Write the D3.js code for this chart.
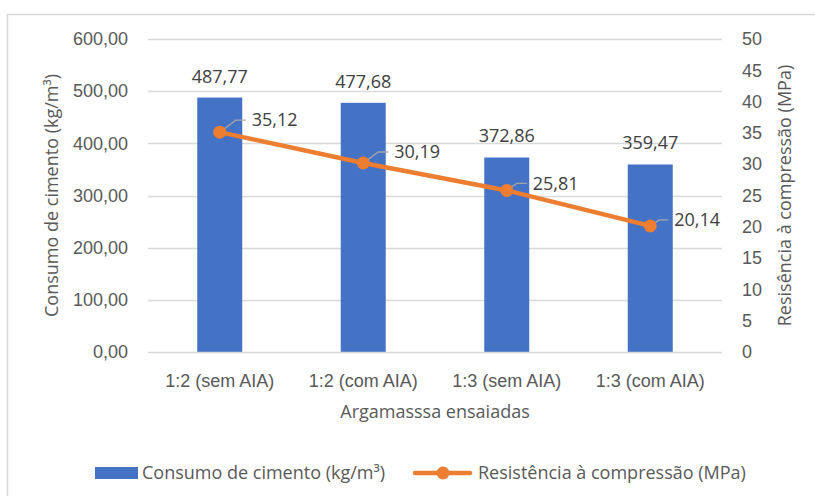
<!DOCTYPE html>
<html>
<head>
<meta charset="utf-8">
<script src="https://cdn.jsdelivr.net/npm/d3@7"></script>
<style>
  html, body { margin: 0; padding: 0; background: #fff; }
  svg { display: block; font-family: "Open Sans", "Noto Sans", sans-serif; }
</style>
</head>
<body>
<svg id="chart" width="815" height="496"></svg>
<script>
// Mortars tested
const categories = ["1:2 (sem AIA)", "1:2 (com AIA)", "1:3 (sem AIA)", "1:3 (com AIA)"];
// Cement consumption (kg/m³)
const consumo = [487.77, 477.68, 372.86, 359.47];
// Compressive strength (MPa)
const resistencia = [35.12, 30.19, 25.81, 20.14];
// Axis ticks
const leftTicks = [0, 100, 200, 300, 400, 500, 600];
const rightTicks = [0, 5, 10, 15, 20, 25, 30, 35, 40, 45, 50];

const seriesNames = ["Consumo de cimento (kg/m³)", "Resistência à compressão (MPa)"];
const leftTitle = "Consumo de cimento (kg/m³)";
const rightTitle = "Resisência à compressão (MPa)";
const xTitle = "Argamasssa ensaiadas";

const BLUE = "#4472C4", ORANGE = "#ED7D31", GRID = "#D9D9D9";
const TXT = "#595959", LBL = "#404040";
const fmt2 = v => d3.format(".2f")(v).replace(".", ",");

const svg = d3.select("#chart");

// chart area frame
svg.append("rect").attr("x", 7.5).attr("y", 14.5).attr("width", 830).attr("height", 500)
  .attr("fill", "#fff").attr("stroke", "#D9D9D9").attr("stroke-width", 1.5);

const plot = { left: 148, right: 722, top: 39, bottom: 352 };

const x = d3.scaleBand().domain(categories).range([plot.left, plot.right]).paddingInner(0).paddingOuter(0);
const yL = d3.scaleLinear().domain([0, 600]).range([plot.bottom, plot.top]);
const yR = d3.scaleLinear().domain([0, 50]).range([plot.bottom, plot.top]);

// gridlines
svg.append("g").selectAll("line").data(leftTicks.filter(d => d > 0)).join("line")
  .attr("x1", plot.left).attr("x2", plot.right)
  .attr("y1", d => Math.round(yL(d)) + 0.5).attr("y2", d => Math.round(yL(d)) + 0.5)
  .attr("stroke", GRID).attr("stroke-width", 1.3);

// left axis
const axL = svg.append("g").attr("transform", `translate(${plot.left},0)`)
  .call(d3.axisLeft(yL).tickValues(leftTicks).tickFormat(fmt2).tickSize(0).tickPadding(20));
axL.select(".domain").remove();
axL.selectAll("text").attr("font-size", 18).attr("fill", TXT).attr("font-family", null);

// right axis
const axR = svg.append("g").attr("transform", `translate(${plot.right},0)`)
  .call(d3.axisRight(yR).tickValues(rightTicks).tickFormat(d3.format("d")).tickSize(0).tickPadding(20));
axR.select(".domain").remove();
axR.selectAll("text").attr("font-size", 18).attr("fill", TXT).attr("font-family", null);

// bars
const barW = 45;
svg.append("g").selectAll("rect").data(consumo).join("rect")
  .attr("x", (d, i) => x(categories[i]) + x.bandwidth() / 2 - barW / 2)
  .attr("y", d => yL(d))
  .attr("width", barW)
  .attr("height", d => yL(0) - yL(d))
  .attr("fill", BLUE);

// baseline
svg.append("line").attr("x1", plot.left).attr("x2", plot.right)
  .attr("y1", plot.bottom + 0.5).attr("y2", plot.bottom + 0.5)
  .attr("stroke", GRID).attr("stroke-width", 1.3);

// bar value labels
svg.append("g").selectAll("text").data(consumo).join("text")
  .attr("x", (d, i) => x(categories[i]) + x.bandwidth() / 2)
  .attr("y", d => yL(d) - 15)
  .attr("text-anchor", "middle").attr("font-size", 18).attr("fill", LBL)
  .text(d => fmt2(d));

// x axis
const axX = svg.append("g").attr("transform", `translate(0,${plot.bottom})`)
  .call(d3.axisBottom(x).tickSize(0).tickPadding(22));
axX.select(".domain").remove();
axX.selectAll("text").attr("font-size", 18).attr("fill", TXT).attr("font-family", null);

// line series
const cx = i => x(categories[i]) + x.bandwidth() / 2;
const line = d3.line().x((d, i) => cx(i)).y(d => yR(d));
svg.append("path").datum(resistencia).attr("d", line)
  .attr("fill", "none").attr("stroke", ORANGE).attr("stroke-width", 4.5)
  .attr("stroke-linejoin", "round").attr("stroke-linecap", "round");

// leader lines and labels for the strength values
const leader = [
  { dx: 16, dy: -12, h: 10 },
  { dx: 15, dy: -11, h: 10 },
  { dx: 10, dy: -7, h: 10 },
  { dx: 9, dy: -6, h: 9 }
];
const lg = svg.append("g");
resistencia.forEach((v, i) => {
  const px = cx(i), py = yR(v), o = leader[i];
  lg.append("polyline")
    .attr("points", `${px},${py} ${px + o.dx},${py + o.dy} ${px + o.dx + o.h},${py + o.dy}`)
    .attr("fill", "none").attr("stroke", "#A6A6A6").attr("stroke-width", 1.3);
  lg.append("text").attr("x", px + o.dx + o.h + 6).attr("y", py + o.dy)
    .attr("dy", "0.35em").attr("font-size", 18).attr("fill", LBL).text(fmt2(v));
});

// markers
svg.append("g").selectAll("circle").data(resistencia).join("circle")
  .attr("cx", (d, i) => cx(i)).attr("cy", d => yR(d)).attr("r", 6.5)
  .attr("fill", ORANGE);

// axis titles
const midY = (plot.top + plot.bottom) / 2;
svg.append("text").attr("transform", `translate(58,${midY}) rotate(-90)`)
  .attr("text-anchor", "middle").attr("font-size", 18).attr("fill", TXT).text(leftTitle);
svg.append("text").attr("transform", `translate(791,${midY}) rotate(-90)`)
  .attr("text-anchor", "middle").attr("font-size", 18).attr("fill", TXT).text(rightTitle);
svg.append("text").attr("x", (plot.left + plot.right) / 2).attr("y", 418)
  .attr("text-anchor", "middle").attr("font-size", 18).attr("fill", TXT).text(xTitle);

// legend
const leg = svg.append("g");
leg.append("rect").attr("x", 95).attr("y", 467).attr("width", 43).attr("height", 12).attr("fill", BLUE);
leg.append("text").attr("x", 142).attr("y", 473).attr("dy", "0.35em")
  .attr("font-size", 18).attr("fill", TXT).text(seriesNames[0]);
leg.append("line").attr("x1", 415).attr("x2", 470).attr("y1", 473).attr("y2", 473)
  .attr("stroke", ORANGE).attr("stroke-width", 4.5).attr("stroke-linecap", "round");
leg.append("circle").attr("cx", 443).attr("cy", 473).attr("r", 6.5).attr("fill", ORANGE);
leg.append("text").attr("x", 478).attr("y", 473).attr("dy", "0.35em")
  .attr("font-size", 18).attr("fill", TXT).text(seriesNames[1]);
</script>
</body>
</html>
